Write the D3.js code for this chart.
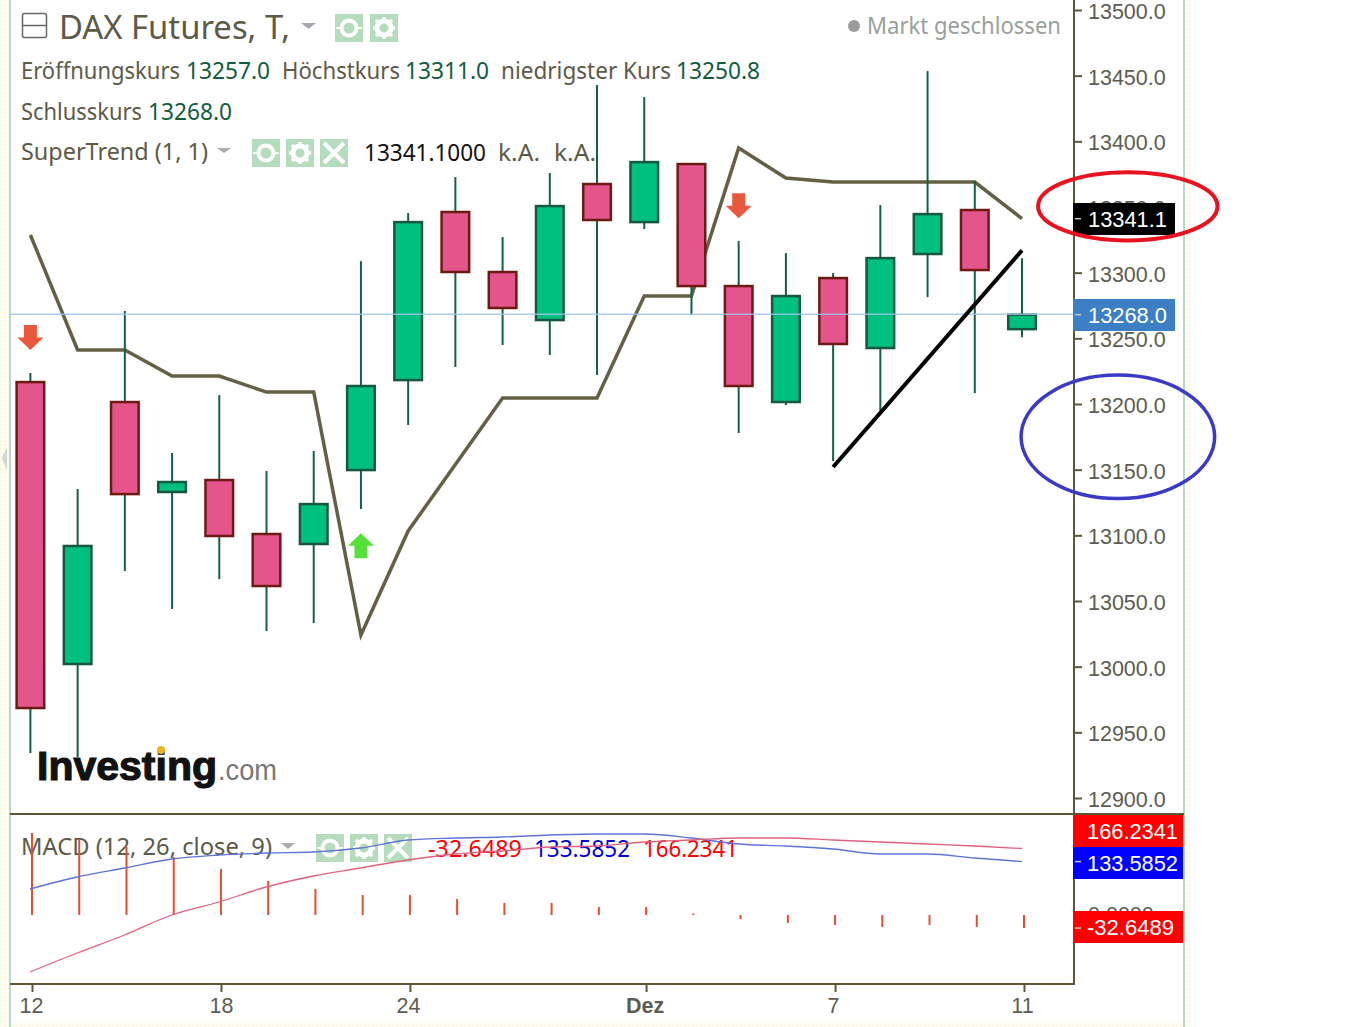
<!DOCTYPE html>
<html><head><meta charset="utf-8">
<script src="https://cdn.jsdelivr.net/npm/d3@7/dist/d3.min.js"></script>
<style>html,body{margin:0;background:#fff;overflow:hidden}svg{display:block}</style>
</head><body><svg id="c" width="1355" height="1027"></svg>
<script>
const opens =[13216.7,13002.0,13201.5,13133.0,13142.1,13101.0,13093.4,13149.7,13218.2,13346.2,13300.5,13263.9,13367.5,13338.5,13382.7,13289.8,13201.5,13295.9,13242.6,13314.2,13347.7,13257.0];
const highs =[13223.6,13135.2,13270.8,13162.7,13206.8,13149.0,13164.2,13308.8,13345.4,13372.8,13327.1,13375.9,13442.9,13433.7,13383.5,13324.1,13314.9,13299.7,13351.5,13453.5,13369.8,13311.0];
const lows  =[12934.2,12931.2,13072.8,13043.9,13066.7,13027.1,13033.2,13120.0,13184.0,13228.2,13244.9,13237.3,13222.1,13333.2,13267.7,13177.9,13199.2,13156.6,13194.6,13281.4,13208.3,13250.8];
const closes=[12968.5,13091.9,13131.4,13140.6,13099.5,13061.4,13123.8,13213.7,13338.5,13300.5,13273.1,13350.7,13340.1,13384.2,13289.8,13213.7,13282.2,13245.7,13311.1,13344.6,13302.0,13268.0];
const superTrend=[13328.7,13241.1,13241.1,13221.3,13221.3,13209.1,13209.1,13024.1,13103.3,13154.0,13204.6,13204.6,13204.6,13282.2,13282.2,13394.9,13372.1,13369.0,13369.0,13369.0,13369.0,13341.1];
const macdLine=[65,95,117.5,140,150,155,157.5,167.5,187.5,192.5,195,200,202.5,202.5,192.5,177.5,172.5,165,152.5,152.5,142.5,133.5852];
const signalLine=[-142.5,-95,-50,0,32.5,70,97.5,117.5,137.5,152.5,160,170,172.5,182.5,187.5,192.5,192.5,187.5,182.5,177.5,172.5,166.2341];
const histogram=[205,190,170,145,115,85,65,50,50,40,30,30,20,20,3.75,-10,-20,-25,-30,-25,-30,-32.6489];
const sellSignals=[[0,13250.6],[15,13351]];
const buySignals=[[7,13092]];
const priceTicks=d3.range(12900,13501,50);
const dateTickIndex=[0,4,8,13,17,21];
const dateTickLabels=["12","18","24","Dez","7","11"];
const trendNote=[[17,13152],[21,13317]];
const ellipseNotes=[{i:23.24,p:13350.5,ri:1.9,rp:26,c:"#e8131f",w:4},{i:23.03,p:13175,ri:2.05,rp:47,c:"#3a3ac6",w:3.5}];

const svg=d3.select("#c");
const INK="#5d5a48", AX="#5e5636", VAL="#115c40", SANS="'Noto Sans',sans-serif", ARIAL="'Liberation Sans',Arial,sans-serif";
const x=d3.scaleLinear().domain([0,21]).range([30.4,1022]);
const xM=d3.scaleLinear().domain([0,21]).range([32,1024]);
const y=d3.scaleLinear().domain([12900,13500]).range([798,10]);
const yM=d3.scaleLinear().domain([0,100]).range([915,875]);

// page frame
const defs=svg.append("defs");
const pat=defs.append("pattern").attr("id","dots").attr("width",4).attr("height",4).attr("patternUnits","userSpaceOnUse");
pat.append("rect").attr("width",4).attr("height",4).attr("fill","#fffef6");
pat.append("rect").attr("width",2).attr("height",2).attr("fill","#fdf6d8");
svg.append("rect").attr("x",0).attr("y",0).attr("width",9).attr("height",1027).attr("fill","url(#dots)");
svg.append("rect").attr("x",1186).attr("y",0).attr("width",5).attr("height",1027).attr("fill","url(#dots)");
svg.append("rect").attr("x",11).attr("y",1022).attr("width",1173).attr("height",5).attr("fill","url(#dots)");
[10,1184].forEach(px=>svg.append("line").attr("x1",px).attr("x2",px).attr("y1",0).attr("y2",1027).attr("stroke","#b7d9cc").attr("stroke-width",2));
svg.append("path").attr("d","M7 447 L2 458 L7 470 Z").attr("fill","#cfd6d6");

function hdr(t,px,py,fs,fill,len){const e=svg.append("text").attr("x",px).attr("y",py).attr("font-family",SANS).attr("font-size",fs).attr("fill",fill).text(t);
 if(len)e.attr("textLength",len).attr("lengthAdjust","spacingAndGlyphs");return e;}
function tri(px,py,w,h){svg.append("path").attr("d",`M${px} ${py}h${w}l${-w/2} ${h}z`).attr("fill","#a9a9b4");}
function iconBox(px,py,kind){
 const g=svg.append("g").attr("transform",`translate(${px},${py})`);
 g.append("rect").attr("width",28).attr("height",28).attr("fill","#b5dcbd");
 if(kind==="eye"){g.append("circle").attr("cx",14).attr("cy",14).attr("r",7.5).attr("fill","none").attr("stroke","#fff").attr("stroke-width",4);
  g.append("path").attr("d","M1 14H5M23 14H27").attr("stroke","#fff").attr("stroke-width",2);}
 if(kind==="gear"){g.append("circle").attr("cx",14).attr("cy",14).attr("r",7).attr("fill","none").attr("stroke","#fff").attr("stroke-width",5);
  g.append("path").attr("d","M14 3V8M14 20V25M3 14H8M20 14H25M6 6L9.5 9.5M18.5 18.5L22 22M22 6L18.5 9.5M9.5 18.5L6 22").attr("stroke","#fff").attr("stroke-width",3.5);}
 if(kind==="x"){g.append("path").attr("d","M4 4L24 24M24 4L4 24").attr("stroke","#fff").attr("stroke-width",4);}
}
// header texts
svg.append("rect").attr("x",22.5).attr("y",13.5).attr("width",24).attr("height",24).attr("rx",2).attr("fill","none").attr("stroke","#666").attr("stroke-width",1.5);
svg.append("line").attr("x1",22).attr("x2",47).attr("y1",25.5).attr("y2",25.5).attr("stroke","#666").attr("stroke-width",1.5);
hdr("DAX Futures, T,",59,39,32,INK,231);
tri(301,23,15,6); iconBox(335,14,"eye"); iconBox(370,14,"gear");
svg.append("circle").attr("cx",854).attr("cy",26).attr("r",6).attr("fill","#9a9a9a");
hdr("Markt geschlossen",867,34,23,"#9b9f9b",194);
function row(parts,py){parts.forEach(p=>hdr(p[0],p[1],py,23,p[2],p[3]));}
row([["Eröffnungskurs",21,INK,159],["13257.0",186,VAL,84],["Höchstkurs",282,INK,118],["13311.0",405,VAL,84],["niedrigster Kurs",501,INK,170],["13250.8",676,VAL,84]],79);
row([["Schlusskurs",21,INK,121],["13268.0",148,VAL,84]],120);
row([["SuperTrend (1, 1)",21,INK,187]],160);
tri(217,148,14,5); iconBox(252,139,"eye"); iconBox(286,139,"gear"); iconBox(320,139,"x");
row([["13341.1000",364,"#111",122],["k.A.",498,INK,42],["k.A.",554,INK,42]],161);
row([["MACD (12, 26, close, 9)",21,INK,251]],855);
tri(281,843,14,6); iconBox(316,834,"eye"); iconBox(350,834,"gear"); iconBox(384,834,"x");
row([["-32.6489",428,"#f00",94],["133.5852",534,"#00d",96],["166.2341",643,"#f00",95]],857);

// logo
svg.append("text").attr("x",37).attr("y",780).attr("font-family",ARIAL).attr("font-weight",700).attr("font-size",41).attr("fill","#111").attr("textLength",180).attr("lengthAdjust","spacingAndGlyphs").attr("stroke","#111").attr("stroke-width",1.2).text("Investing");
svg.append("text").attr("x",218).attr("y",780).attr("font-family",ARIAL).attr("font-size",29).attr("fill","#777").attr("textLength",59).attr("lengthAdjust","spacingAndGlyphs").text(".com");
svg.append("circle").attr("cx",161).attr("cy",750).attr("r",4).attr("fill","#eeb324");

const idx=d3.range(opens.length);

// supertrend (behind the candles)
svg.append("path").datum(idx).attr("d",d3.line().x(i=>x(i)).y(i=>y(superTrend[i]))).attr("fill","none").attr("stroke","#656045").attr("stroke-width",3.5);

// candles
const cg=svg.append("g");
cg.selectAll("line").data(idx).join("line").attr("x1",i=>x(i)).attr("x2",i=>x(i)).attr("y1",i=>y(highs[i])).attr("y2",i=>y(lows[i])).attr("stroke","#136145").attr("stroke-width",2);
cg.selectAll("rect").data(idx).join("rect").attr("x",i=>x(i)-13.8).attr("width",27.6)
 .attr("y",i=>y(Math.max(opens[i],closes[i]))).attr("height",i=>Math.abs(y(opens[i])-y(closes[i])))
 .attr("fill",i=>closes[i]>=opens[i]?"#00c080":"#e4558c").attr("stroke",i=>closes[i]>=opens[i]?"#14593f":"#6e1a14").attr("stroke-width",2.5);

// price line
svg.append("line").attr("x1",11).attr("x2",1074).attr("y1",y(closes[21])-.5).attr("y2",y(closes[21])-.5).attr("stroke","#9fc3ee").attr("stroke-width",1.5).attr("opacity",.85);

// signals
svg.selectAll(".sell").data(sellSignals).join("path").attr("class","sell").attr("fill","#e9573c")
 .attr("transform",d=>`translate(${x(d[0])},${y(d[1])})`).attr("d","M-6.5 -12.5H6.5V0H13L0 12.5L-13 0H-6.5Z");
svg.selectAll(".buy").data(buySignals).join("path").attr("class","buy").attr("fill","#58e03a")
 .attr("transform",d=>`translate(${x(d[0])},${y(d[1])})`).attr("d","M-6.5 12.5H6.5V0H13L0 -12.5L-13 0H-6.5Z");

// macd
svg.selectAll(".hb").data(idx).join("line").attr("class","hb").attr("x1",i=>xM(i)).attr("x2",i=>xM(i)).attr("y1",yM(0)).attr("y2",i=>yM(histogram[i])).attr("stroke","#e2502f").attr("stroke-width",2);
svg.append("path").datum(idx).attr("d",d3.line().curve(d3.curveMonotoneX).x(i=>xM(i)-2).y(i=>yM(macdLine[i]))).attr("fill","none").attr("stroke","#5d74da").attr("stroke-width",1.3);
svg.append("path").datum(idx).attr("d",d3.line().curve(d3.curveMonotoneX).x(i=>xM(i)-2).y(i=>yM(signalLine[i]))).attr("fill","none").attr("stroke","#e2607f").attr("stroke-width",1.3);

// frames
svg.append("line").attr("x1",10).attr("x2",1184).attr("y1",814).attr("y2",814).attr("stroke",AX).attr("stroke-width",2);
svg.append("line").attr("x1",10).attr("x2",1075).attr("y1",984).attr("y2",984).attr("stroke",AX).attr("stroke-width",2);
svg.append("line").attr("x1",1074).attr("x2",1074).attr("y1",0).attr("y2",985).attr("stroke",AX).attr("stroke-width",2);

// axes
function style(g,fs){g.select(".domain").remove();g.selectAll("text").attr("font-family",ARIAL).attr("font-size",fs).attr("fill","#5c5c50");g.selectAll("line").attr("stroke",AX).attr("stroke-width",2);}
const ya=svg.append("g").attr("transform","translate(1074,0)").call(d3.axisRight(y).tickValues(priceTicks).tickFormat(d3.format(".1f")).tickSize(8).tickPadding(6));
style(ya,21.5); ya.selectAll("text").attr("y",1.5);
const yb=svg.append("g").attr("transform","translate(1074,0)").call(d3.axisRight(yM).tickValues([0]).tickFormat(d3.format(".4f")).tickSize(8).tickPadding(6));
style(yb,21.5);
const xa=svg.append("g").attr("transform","translate(0,984)").call(d3.axisBottom(xM).tickValues(dateTickIndex).tickFormat((d,i)=>dateTickLabels[i]).tickSize(8).tickPadding(6));
style(xa,21.5);
const labelShift=[-1,0,-2,-1.5,-2,-2];
xa.selectAll("text").attr("font-weight",(d,i)=>dateTickLabels[i]==="Dez"?700:400).attr("dx",(d,i)=>labelShift[i]);

// value tags
function tag(v,scale,top,fill,txt,w,tx,tl){
 const g=svg.append("g");
 g.append("rect").attr("x",1073).attr("y",top).attr("width",w).attr("height",32).attr("fill",fill);
 g.append("line").attr("x1",1075).attr("x2",1081).attr("y1",scale(v)).attr("y2",scale(v)).attr("stroke","#c8c8c8").attr("stroke-width",1.5);
 g.append("text").attr("x",tx).attr("y",top+24).attr("font-family",ARIAL).attr("font-size",22).attr("fill","#fff").attr("textLength",tl).attr("lengthAdjust","spacingAndGlyphs").text(txt);
}
const fmt1=v=>d3.format(".1f")(v), fmt4=v=>d3.format(".4f")(v).replace("\u2212","-");
tag(superTrend[21],y,203,"#000",fmt1(superTrend[21]),102,1088,79);
tag(closes[21],y,299,"#3d7fc4",fmt1(closes[21]),102,1088,79);
tag(signalLine[21],yM,815,"#f00",fmt4(signalLine[21]),110,1087,91);
tag(macdLine[21],yM,847,"#00f",fmt4(macdLine[21]),110,1087,91);
tag(histogram[21],yM,911,"#f00",fmt4(histogram[21]),110,1087,87);

// hand-drawn notes
svg.append("path").datum(trendNote).attr("d",d3.line().x(d=>x(d[0])).y(d=>y(d[1]))).attr("fill","none").attr("stroke","#000").attr("stroke-width",4);
svg.selectAll(".note").data(ellipseNotes).join("ellipse").attr("class","note")
 .attr("cx",d=>x(d.i)).attr("cy",d=>y(d.p)).attr("rx",d=>x(d.ri)-x(0)).attr("ry",d=>y(13000)-y(13000+d.rp))
 .attr("fill","none").attr("stroke",d=>d.c).attr("stroke-width",d=>d.w);
</script></body></html>
